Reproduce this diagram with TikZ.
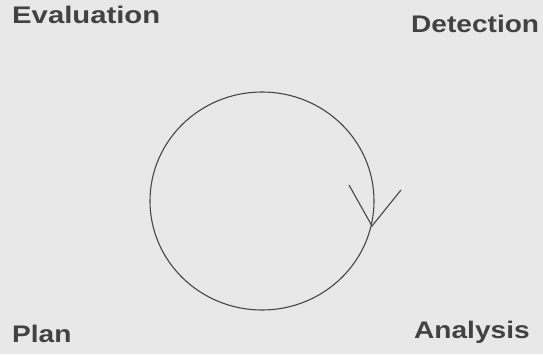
\documentclass[tikz,border=0pt]{standalone}
\usepackage{fontspec}
\usepackage{graphicx}
\setmainfont{Liberation Sans}
\definecolor{bgpaper}{RGB}{232,232,232}
\definecolor{inkgray}{RGB}{66,66,66}
\definecolor{linegray}{RGB}{70,70,70}
\tikzset{
  phase/.style={font=\fontsize{24}{27}\selectfont\bfseries, text=inkgray, inner sep=0pt, anchor=base west},
  loopline/.style={draw=linegray, line width=1.1pt},
}
\newcommand{\wide}[1]{\scalebox{1.17}[1]{#1}}
\begin{document}
\begin{tikzpicture}[x=1pt,y=1pt]
  \fill[bgpaper] (0,0) rectangle (543,354);
  \useasboundingbox (0,0) rectangle (543,354);
  \node[phase] (eval) at (12,330) {\scalebox{1.22}[1]{Evaluation}};
  \node[phase] (det) at (411,321) {\wide{Detection}};
  \node[phase] (plan) at (12,12) {\wide{Plan}};
  \node[phase] (ana) at (414,16) {\wide{Analysis}};
  \coordinate (ctr) at (262,153);
  \draw[loopline] (ctr) ellipse [x radius=112, y radius=109];
  \coordinate (tip) at (372,128);
  \coordinate (barbL) at (349,169);
  \coordinate (barbR) at (401,164);
  \draw[loopline] (barbL) -- (tip) -- (barbR);
\end{tikzpicture}
\end{document}
